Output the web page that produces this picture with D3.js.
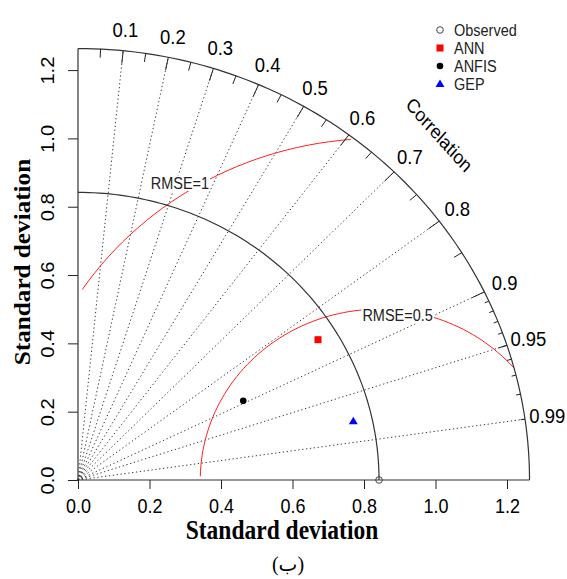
<!DOCTYPE html>
<html>
<head>
<meta charset="utf-8">
<script src="https://cdn.jsdelivr.net/npm/d3@7"></script>
<style>
  html, body { margin: 0; padding: 0; background: #fff; }
</style>
</head>
<body>
<svg id="chart" width="567" height="579" font-family="Arial, 'Liberation Sans', sans-serif"></svg>
<script>
// Taylor diagram: standard deviation (radius) and correlation (angle)
const observedSd = 0.842;
const models = ["ANN", "ANFIS", "GEP"];
const modelSd = [0.787, 0.517, 0.789];
const modelCor = [0.853, 0.894, 0.976];
const modelColors = ["#ff0000", "#000000", "#0000ff"];
const modelShapes = ["square", "circle", "triangle"];

const sdTicks = [0, 0.2, 0.4, 0.6, 0.8, 1.0, 1.2];
const corLines = [0.1, 0.2, 0.3, 0.4, 0.5, 0.6, 0.7, 0.8, 0.9, 0.95, 0.99];
const corMedTicks = [0.05, 0.15, 0.25, 0.35, 0.45, 0.55, 0.65, 0.75, 0.85, 0.95];
const corSmallTicks = [0.91, 0.92, 0.93, 0.94, 0.95, 0.96, 0.97, 0.98, 0.99];
const rmseLevels = [0.5, 1];
const rmseLabels = ["RMSE=0.5", "RMSE=1"];

const maxSd = 1.5 * observedSd;
const SERIF = "'Times New Roman', 'Liberation Serif', serif";
const TALL = 1.12; // glyphs are drawn slightly taller than wide

const svg = d3.select("#chart");
const x = d3.scaleLinear().domain([0, 1.2]).range([78, 78 + 1.2 * 357.5]);
const y = d3.scaleLinear().domain([0, 1.2]).range([480, 480 - 1.2 * 341.6]);

const px = (r, t) => x(r * Math.cos(t));
const py = (r, t) => y(r * Math.sin(t));

const lineGen = d3.line().x(d => x(d[0])).y(d => y(d[1]));

// text placed at (tx, ty), stretched vertically, optionally rotated
function label(parent, tx, ty, str, size, opts = {}) {
  const rot = opts.rotate ? ` rotate(${opts.rotate})` : "";
  return parent.append("text")
    .attr("transform", `translate(${tx},${ty}) scale(1,${opts.tall || TALL})${rot}`)
    .attr("text-anchor", opts.anchor || "middle")
    .attr("dominant-baseline", opts.baseline || "central")
    .attr("font-size", size)
    .attr("font-family", opts.family || null)
    .attr("font-weight", opts.weight || null)
    .attr("fill", opts.fill || "#000")
    .text(str);
}

// quarter arc of a given radius around the origin
function arcPoints(r) {
  return d3.range(0, 91).map(i => {
    const t = (i / 90) * Math.PI / 2;
    return [r * Math.cos(t), r * Math.sin(t)];
  });
}

const g = svg.append("g");

// correlation rays
corLines.forEach(c => {
  const t = Math.acos(c);
  g.append("line")
    .attr("x1", x(0)).attr("y1", y(0))
    .attr("x2", px(maxSd, t)).attr("y2", py(maxSd, t))
    .attr("stroke", "#222").attr("stroke-width", 0.9)
    .attr("stroke-dasharray", "1.3,2.6");
});

// RMSE circles centred on the observed point
rmseLevels.forEach(r => {
  const ts = d3.range(0, Math.PI + 1e-9, 0.03);
  let pts = ts.map(t => [observedSd + r * Math.cos(t), r * Math.sin(t)]);
  const negIdx = pts.findIndex(p => p[0] < 0);
  const end = negIdx >= 0 ? negIdx - 1 : pts.length - 1;
  let start = 0;
  pts.forEach((p, k) => { if (p[0] * p[0] + p[1] * p[1] > maxSd * maxSd) start = k + 1; });
  pts = pts.slice(start, end + 1);
  g.append("path").attr("d", lineGen(pts))
    .attr("fill", "none").attr("stroke", "#ff2020").attr("stroke-width", 1);
});

// observed standard deviation arc
g.append("path").attr("d", lineGen(arcPoints(observedSd)))
  .attr("fill", "none").attr("stroke", "#333").attr("stroke-width", 1.2);

// outer arc
g.append("path").attr("d", lineGen(arcPoints(maxSd)))
  .attr("fill", "none").attr("stroke", "#333").attr("stroke-width", 1.2);

// tick marks on the outer arc
function arcTicks(vals, frac) {
  vals.forEach(c => {
    const t = Math.acos(c);
    g.append("line")
      .attr("x1", px(maxSd, t)).attr("y1", py(maxSd, t))
      .attr("x2", px(maxSd * frac, t)).attr("y2", py(maxSd * frac, t))
      .attr("stroke", "#222").attr("stroke-width", 1);
  });
}
arcTicks(corLines.slice(0, 9), 0.97);
arcTicks(corMedTicks, 0.98);
arcTicks(corSmallTicks, 0.99);

// correlation labels
corLines.forEach(c => {
  const t = Math.acos(c);
  label(g, px(1.05 * maxSd, t), py(1.05 * maxSd, t), c, 18.5);
});

label(g, x(0.8 * maxSd), y(0.8 * maxSd), "Correlation", 17.5, { rotate: 45 });

// RMSE labels on a white box
const rmseLabelPos = [[0.894, 0.481], [0.285, 0.869]];
rmseLabels.forEach((lab, i) => {
  const lg = g.append("g");
  const tx = label(lg, x(rmseLabelPos[i][0]), y(rmseLabelPos[i][1]), lab, 14.5, { fill: "#222" });
  const bb = tx.node().getBBox();
  lg.insert("rect", "text")
    .attr("transform", tx.attr("transform"))
    .attr("x", bb.x - 1).attr("y", bb.y + 1).attr("width", bb.width + 2).attr("height", bb.height - 2)
    .attr("fill", "#fff");
});

// axes
const fmt = d3.format(".1f");
const xAxis = svg.append("g").attr("transform", `translate(0,${y(0)})`)
  .call(d3.axisBottom(x).tickValues(sdTicks).tickFormat(fmt).tickSize(9));
const yAxis = svg.append("g").attr("transform", `translate(${x(0)},0)`)
  .call(d3.axisLeft(y).tickValues(sdTicks).tickFormat(fmt).tickSize(10));
[xAxis, yAxis].forEach(a => {
  a.select(".domain").remove();
  a.selectAll(".tick line").attr("stroke", "#222");
  a.selectAll(".tick text").attr("font-size", 18).attr("fill", "#000")
    .attr("font-family", "Arial, 'Liberation Sans', sans-serif")
    .attr("x", null).attr("y", null).attr("dy", null)
    .attr("text-anchor", "middle").attr("dominant-baseline", "central");
});
xAxis.selectAll(".tick text").attr("transform", `translate(0,26.5) scale(1,${TALL})`);
yAxis.selectAll(".tick text").attr("transform", `translate(-30,0) scale(1,${TALL}) rotate(-90)`);

svg.append("line").attr("x1", x(0)).attr("y1", y(0)).attr("x2", x(maxSd)).attr("y2", y(0))
  .attr("stroke", "#333").attr("stroke-width", 1.2);
svg.append("line").attr("x1", x(0)).attr("y1", y(0)).attr("x2", x(0)).attr("y2", y(maxSd))
  .attr("stroke", "#333").attr("stroke-width", 1.2);

// axis titles
label(svg, 282, 530, "Standard deviation", 23.5, { family: SERIF, weight: "bold" });
label(svg, 22, 262, "Standard deviation", 22.5, { family: SERIF, weight: "bold", rotate: -90 });

// markers
function drawSymbol(sel, shape, cx, cy, color, filled) {
  if (shape === "square") {
    sel.append("rect").attr("x", cx - 3.5).attr("y", cy - 3.5).attr("width", 7).attr("height", 7).attr("fill", color);
  } else if (shape === "circle") {
    sel.append("circle").attr("cx", cx).attr("cy", cy).attr("r", 3.3)
      .attr("fill", filled ? color : "none").attr("stroke", color).attr("stroke-width", filled ? 0 : 1);
  } else if (shape === "triangle") {
    sel.append("path").attr("d", `M${cx - 4.5},${cy + 3} L${cx + 4.5},${cy + 3} L${cx},${cy - 4.5} Z`).attr("fill", color);
  }
}

drawSymbol(svg, "circle", x(observedSd), y(0), "#444", false);
models.forEach((m, i) => {
  const t = Math.acos(modelCor[i]);
  drawSymbol(svg, modelShapes[i], px(modelSd[i], t), py(modelSd[i], t), modelColors[i], true);
});

// legend
const legendNames = ["Observed"].concat(models);
const legendShapes = ["circle"].concat(modelShapes);
const legendColors = ["#444"].concat(modelColors);
legendNames.forEach((name, i) => {
  const ly = 30 + i * 18;
  drawSymbol(svg, legendShapes[i], 440, ly, legendColors[i], i > 0);
  label(svg, 454, ly, name, 14.5, { anchor: "start", fill: "#222" });
});

// panel caption
label(svg, 288, 564, "(ب)", 20, { family: "'Times New Roman', 'DejaVu Sans', serif", tall: 1 });
</script>
</body>
</html>
